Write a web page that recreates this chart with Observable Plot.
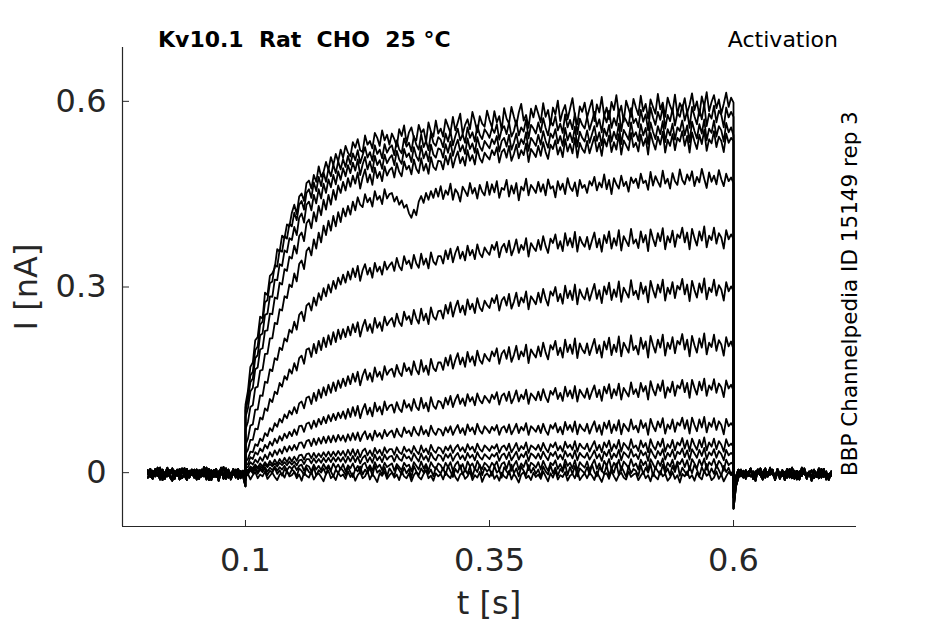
<!DOCTYPE html>
<html><head><meta charset="utf-8">
<script src="https://cdn.jsdelivr.net/npm/d3@7"></script>
<script src="https://cdn.jsdelivr.net/npm/@observablehq/plot@0.6"></script>
<style>body{margin:0;background:#fff} #chart{width:945px;height:624px}</style>
</head><body><div id="chart"></div>
<script>
// Axis settings
const X_DOMAIN = [-0.026, 0.726];
const Y_DOMAIN = [-0.087, 0.687];
const X_TICKS = [0.1, 0.35, 0.6];
const Y_TICKS = [0, 0.3, 0.6];
const TITLE = "Kv10.1  Rat  CHO  25 °C";
const PROTOCOL = "Activation";
const SOURCE = "BBP Channelpedia ID 15149 rep 3";
const X_LABEL = "t [s]";
const Y_LABEL = "I [nA]";

// segment times (s); samples every 2.5 ms; values in pA (1/1000 nA)
const T0 = 0, PULSE_START = 0.1, PULSE_END = 0.6, T_END = 0.7;

// baseline before the step (t = 0 … 0.1), four recorded variants
const pre1 = [-3,6,-9,2,-5,8,-12,0,-6,4,-1,-10,5,-7,1,7,-8,3,-4,5,-11,2,-6,9,-3,-9,4,-2,6,-13,1,-5,7,-8,0,-3,5,-10,3,-6,-22];
const pre2 = [4,-7,1,-3,8,-5,0,-10,3,-1,7,-6,2,-11,1,-4,6,-8,0,-2,5,-9,3,-6,8,-12,-1,4,-7,2,-3,9,-10,0,-5,6,-8,1,-4,3,-12];
const pre3 = [-8,0,3,-6,-1,-11,5,-4,2,-7,-13,0,-5,6,-9,-2,4,-6,1,-8,2,-10,5,-3,-7,1,-12,4,-2,-6,7,-9,-1,3,-11,0,-5,6,-8,-2,-6];
const pre4 = [1,-5,-10,6,-2,4,-7,-1,8,-4,-8,3,-1,-6,7,-5,-12,0,5,-2,-9,4,-6,2,-11,6,-3,-7,1,-4,8,-10,-2,5,-8,0,-6,3,-9,1,2];
// tail after the step (t = 0.6 … 0.7)
const post1 = [-58,-22,-8,3,-7,1,-5,7,-9,-1,5,-4,-11,2,-6,6,-3,-8,1,-5,4,-12,0,-6,8,-3,-9,2,-5,5,-10,1,-7,3,-2,-9,6,-4,-1,-7,-5];
const post2 = [-30,-12,-3,5,-7,0,-4,6,-10,2,-2,7,-5,-8,1,-3,5,-12,0,-4,3,-7,-1,6,-9,2,-5,-11,4,-2,-6,1,-13,3,-4,7,-8,0,-3,-6,2];
const post3 = [-15,-6,5,-2,-8,4,-3,-6,2,-13,5,-4,0,7,-6,-1,3,-9,6,-3,-5,1,-8,4,-2,-10,3,-6,8,-1,-4,2,-9,5,-7,0,-3,6,-11,-2,-4];
const post4 = [-40,-15,0,-6,3,-10,1,5,-4,-7,4,-1,-9,3,-5,8,-3,-7,2,-10,0,-4,6,-8,-2,3,-11,1,-5,7,-6,-1,4,-9,0,-3,5,-7,2,-12,-1];

// currents during the step (t = 0.1 … 0.6), one array per voltage step
const s1 = [110,132,171,178,214,219,252,249,291,287,318,322,331,361,357,383,379,401,398,420,
433,418,446,451,439,468,472,459,481,470,495,478,486,502,489,510,497,515,503,522,
509,528,517,511,534,525,539,521,518,545,530,536,524,549,541,528,553,537,546,530,
548,539,527,555,544,561,533,550,558,541,537,562,549,555,534,566,551,543,569,548,
556,543,571,560,549,575,553,566,580,547,562,571,555,583,568,550,576,564,559,585,
570,558,584,566,576,553,589,572,564,591,575,561,582,596,569,578,557,588,574,593,
580,566,597,575,586,562,590,579,601,568,584,594,571,588,605,577,563,592,583,598,
574,589,602,568,595,582,607,576,590,571,599,586,610,579,593,567,601,588,575,604,
590,578,609,584,596,572,603,591,580,612,587,598,575,606,593,583,611,579,597,588,
605,581,594,613,586,600,577,608,592,615,584,599,610,589,603,580,596,614,591,606,598];
const s2 = [105,124,157,163,198,204,239,244,275,279,306,309,335,333,360,357,382,378,402,398,
420,408,433,439,425,452,458,444,469,455,478,463,485,470,491,479,498,484,503,490,
507,494,512,498,516,505,521,500,513,526,509,518,504,529,515,522,508,531,517,525,
529,513,537,522,516,540,527,533,519,544,530,522,547,526,536,521,549,533,528,542,
538,526,548,535,552,529,544,556,537,547,533,558,541,550,535,561,546,539,555,549,
541,557,549,563,538,555,560,547,566,543,552,569,545,558,551,571,540,562,556,548,
566,550,573,557,545,568,561,576,553,564,549,579,558,570,555,581,547,572,562,556,
575,554,568,583,559,571,550,578,566,585,557,573,561,587,552,576,569,560,589,565,
572,558,586,567,579,553,590,574,562,583,570,592,556,578,568,588,561,581,575,594,
569,584,557,591,576,563,587,571,596,560,580,572,593,566,585,578,558,590,574,583,575];
const s3 = [100,117,146,152,185,190,222,225,255,257,285,284,312,311,337,334,359,356,379,376,
397,384,412,419,404,433,438,424,449,435,458,443,467,452,474,461,481,466,487,473,
492,479,497,484,501,488,506,481,498,510,490,503,486,512,497,505,491,514,500,508,
513,497,520,506,499,523,510,516,502,526,511,504,528,508,519,503,530,514,509,524,
522,509,531,517,535,512,527,538,519,529,515,540,523,532,517,542,527,520,536,530,
524,539,531,544,519,536,541,527,546,522,533,548,526,539,531,550,520,541,535,528,
546,530,552,536,525,548,541,555,532,544,528,557,537,549,534,559,527,551,541,535,
553,533,547,560,536,550,529,556,544,562,535,551,539,564,531,554,546,538,566,543,
550,536,563,545,557,531,566,551,539,560,547,568,534,555,545,564,538,558,552,569,
545,561,534,567,552,540,563,548,571,537,556,549,569,543,560,553,535,565,550,558,545];
const s4 = [90,104,131,137,167,170,199,201,229,230,257,256,283,281,307,304,329,326,349,346,
367,354,382,388,374,403,409,395,421,406,431,416,441,425,449,433,457,441,464,452,
470,456,476,462,480,467,485,459,477,490,469,482,465,493,476,486,471,495,480,489,
493,477,500,486,479,503,490,496,482,506,491,484,508,488,499,483,510,494,489,504,
503,490,512,498,516,493,508,519,500,510,496,521,504,513,498,523,508,501,517,511,
506,521,513,526,501,518,523,509,528,504,515,530,508,521,513,532,502,523,517,510,
528,512,534,518,507,530,523,537,514,526,510,539,519,531,516,541,509,533,523,517,
536,516,530,543,519,533,512,539,527,545,518,534,522,547,514,537,529,521,549,526,
533,519,546,528,540,514,549,534,522,543,530,551,517,538,528,547,521,541,535,552,
528,544,517,550,535,523,546,531,554,520,539,532,552,526,543,536,518,548,533,541,536];
const s5 = [70,82,106,109,137,139,165,166,192,192,217,217,242,240,264,262,285,282,304,300,
322,309,337,343,329,358,364,351,377,362,388,372,399,384,407,391,415,398,421,405,
427,414,431,417,438,424,445,433,429,450,437,444,430,455,441,447,434,458,443,450,
452,438,446,433,440,428,433,419,412,425,416,438,447,436,452,441,455,444,459,446,
463,442,456,449,467,441,458,452,438,462,455,447,468,451,460,443,465,454,448,470,
449,466,453,471,444,460,457,473,446,464,451,468,440,462,456,475,448,465,459,452,
470,454,466,448,474,459,463,445,471,457,467,450,476,461,455,469,447,473,460,465,
452,471,464,478,456,469,461,482,458,473,450,476,466,459,480,463,470,454,477,468,
475,460,483,468,472,457,486,464,479,470,462,488,467,475,459,484,471,465,490,473,
466,482,472,487,463,478,469,491,475,460,485,470,480,466,489,474,463,483,471,477,468];
const s6 = [45,55,76,78,102,102,125,124,147,145,167,164,185,182,202,198,217,212,231,226,
244,231,255,260,245,270,274,262,283,270,290,279,298,285,304,291,310,297,315,304,
320,307,325,312,330,316,334,310,327,337,320,331,315,339,325,333,320,341,328,335,
340,326,347,333,327,350,337,343,330,352,338,331,354,336,346,330,356,341,336,350,
350,338,359,345,362,340,355,365,346,357,343,367,351,360,345,369,354,348,364,357,
352,368,360,373,348,364,370,356,375,351,362,377,355,368,360,379,349,371,364,358,
376,360,382,366,355,378,371,385,362,374,358,387,367,379,364,389,357,381,371,365,
381,361,375,388,364,378,357,384,371,390,362,379,367,392,359,382,374,366,394,370,
377,363,390,372,384,358,393,378,366,387,374,395,361,382,372,391,365,385,379,396,
372,388,361,394,379,367,390,375,398,364,383,376,396,370,387,380,362,392,377,385,378];
const s7 = [30,37,53,53,71,70,89,86,104,100,119,114,131,127,145,139,156,150,167,160,
177,165,185,189,176,199,201,187,208,193,213,198,218,203,222,207,227,211,231,216,
232,219,236,222,240,227,243,220,236,247,229,240,226,250,234,243,229,252,238,245,
250,236,257,243,237,260,247,253,240,263,249,241,265,246,257,240,267,252,247,261,
262,249,271,257,275,252,267,278,259,270,255,280,264,273,258,282,267,261,278,271,
266,282,274,287,262,278,284,270,289,265,276,291,269,283,275,293,264,285,279,272,
291,275,297,281,270,293,286,300,277,289,273,302,282,294,279,304,272,296,286,280,
298,278,292,305,281,295,274,301,288,307,279,296,284,309,276,299,291,283,311,287,
294,280,307,289,301,275,310,295,283,304,291,312,278,299,289,308,282,302,296,313,
288,304,277,310,295,283,306,291,314,280,299,292,312,286,303,296,278,308,293,301,294];
const s8 = [18,22,34,33,46,43,55,51,64,59,72,67,80,74,87,81,94,88,100,94,
106,96,112,115,104,121,123,111,129,116,134,121,138,125,142,129,146,132,149,137,
152,140,156,143,160,147,163,141,157,167,150,161,147,170,155,163,150,172,158,165,
168,155,174,162,156,177,164,170,158,180,166,159,182,163,173,158,184,169,164,178,
178,166,186,173,190,168,182,193,175,186,171,195,179,188,173,197,182,176,192,185,
180,196,188,201,176,192,198,184,203,179,190,205,183,196,188,207,177,199,192,186,
204,188,210,194,183,206,199,213,190,202,186,215,195,207,192,217,185,209,199,193,
209,190,203,216,193,206,186,212,199,218,190,207,195,220,188,210,202,194,222,198,
205,191,218,200,212,186,221,206,194,215,202,223,189,210,200,219,193,213,207,224,
199,215,188,221,206,194,217,202,225,191,210,203,223,197,214,207,189,219,204,212,199];
const s9 = [12,14,25,22,33,29,39,34,45,39,50,44,55,48,59,52,63,56,66,59,
70,61,75,76,66,79,81,71,84,74,87,78,90,80,93,83,95,85,97,88,
99,87,103,90,106,92,108,88,102,111,94,105,91,113,99,107,94,115,101,108,
110,97,114,103,98,117,105,111,100,119,106,101,121,104,113,99,122,108,103,116,
114,104,121,110,124,106,118,126,111,120,108,127,115,122,109,128,117,112,124,119,
113,126,119,130,110,124,128,116,131,112,121,133,115,126,119,134,111,128,123,117,
131,117,135,122,114,132,126,137,119,129,116,139,123,133,120,140,115,134,127,121,
136,119,131,141,122,134,116,139,128,143,120,135,125,144,118,137,130,123,146,127,
135,122,145,131,140,118,148,134,125,143,132,149,121,138,130,147,124,141,136,150,
130,145,121,150,137,126,147,133,152,124,141,134,151,129,144,138,122,149,136,142,133];
const s10 = [8,9,17,13,21,16,25,19,29,22,33,26,36,29,38,31,42,34,43,36,
45,37,48,49,40,51,53,43,55,45,56,47,58,48,59,49,60,50,61,52,
60,50,62,52,64,53,65,51,61,67,54,63,52,68,58,64,55,69,59,65,
68,57,71,62,58,73,64,68,59,74,65,60,75,62,69,59,76,66,61,71,
69,60,73,65,75,61,70,77,64,72,61,78,67,73,62,79,68,63,75,70,
64,74,68,77,61,72,75,65,78,62,70,79,64,74,68,80,61,75,71,66,
76,64,79,68,61,77,71,80,65,74,62,82,69,77,66,83,62,78,71,67,
79,63,74,83,66,77,61,81,71,84,64,78,68,85,62,79,73,67,86,70,
76,65,85,72,80,61,87,75,67,83,73,88,63,78,71,86,66,81,76,89,
71,85,63,89,77,67,86,73,90,65,81,74,88,69,83,77,62,87,75,80,74];
const s11 = [5,4,10,7,13,8,15,10,17,11,19,13,21,14,22,16,24,17,25,18,
26,19,28,29,21,30,31,23,32,24,31,25,33,26,34,26,34,27,35,28,
35,26,37,28,38,27,37,25,35,39,28,36,27,40,31,37,28,41,32,38,
38,29,41,33,30,42,34,38,31,43,35,30,44,33,39,30,45,36,32,41,
39,31,42,36,44,32,40,45,35,41,33,46,37,42,33,47,38,34,44,40,
35,43,39,46,32,41,44,36,47,33,40,48,35,43,38,49,32,44,41,37,
45,35,48,39,33,46,41,49,36,43,34,50,40,45,37,51,34,47,41,38,
47,34,43,51,36,45,33,49,41,52,35,46,39,53,34,48,43,37,54,40,
44,35,52,41,48,33,54,43,37,50,42,55,34,46,40,53,36,49,44,56,
39,52,35,55,45,37,53,41,57,36,49,42,55,38,51,45,34,54,43,47,42];
const s12 = [3,2,8,5,10,6,11,7,13,9,14,10,15,10,16,12,17,12,18,13,
18,12,20,21,14,22,22,15,23,16,22,16,24,17,24,17,25,18,25,18,
25,16,26,18,27,17,26,15,24,28,17,25,16,29,20,26,17,29,21,26,
27,18,29,22,19,30,23,26,19,31,24,18,31,21,27,18,32,24,20,29,
27,19,30,24,31,19,27,32,22,28,20,32,24,29,20,33,25,21,30,26,
22,30,26,32,19,28,31,22,33,20,27,34,21,30,25,34,19,31,28,23,
31,22,34,26,20,32,27,34,22,29,21,35,26,31,23,36,20,32,27,24,
32,21,28,36,23,30,19,34,27,37,22,31,25,37,20,33,29,24,38,26,
30,22,36,28,33,19,38,30,23,35,28,38,21,32,26,37,22,34,30,39,
25,36,21,38,31,24,37,27,40,22,33,28,38,24,35,30,20,37,28,32,28];
const s13 = [2,0,6,2,7,1,8,3,9,2,8,4,10,3,9,5,11,4,10,6,
12,4,11,13,3,12,10,2,13,5,11,4,14,6,12,3,15,7,13,5,
14,2,12,7,15,4,11,1,13,16,5,12,3,17,8,13,4,16,9,12,
15,3,14,9,4,16,10,13,2,17,11,5,18,7,14,3,17,10,6,15,
12,4,16,9,17,3,13,18,6,14,2,18,10,15,5,19,11,6,16,12,
7,16,11,18,4,14,17,6,19,3,12,19,5,15,9,20,4,16,13,8,
17,5,19,10,3,16,12,20,6,14,4,21,11,16,7,20,3,17,12,8,
18,4,13,21,6,15,2,19,11,22,5,16,9,21,3,18,13,7,22,10,
15,5,21,12,18,3,22,14,6,19,11,23,4,16,10,21,5,18,14,22,
9,20,4,22,15,7,21,11,23,5,17,12,22,8,19,14,3,21,12,16,13];
const s14 = [0,-3,4,-1,6,-2,5,1,7,-4,3,0,8,-2,4,-5,6,1,-3,5,
2,-6,7,3,-4,8,1,-2,9,-5,4,0,7,-3,10,2,-6,5,-1,8,
3,-4,9,1,-7,6,2,10,-3,5,-1,8,-5,11,0,4,-2,9,-6,7,
1,-5,10,4,-3,8,-1,6,-8,11,2,-4,7,0,12,-2,5,-6,9,3,
-1,8,-4,11,2,-7,6,0,12,-3,5,-2,10,-6,7,1,13,-4,8,2,
6,-5,11,0,4,-8,9,2,-3,13,-1,7,-6,10,3,-4,12,0,8,-2,
5,-7,10,2,-3,12,-1,8,-5,6,1,14,-4,9,-2,11,-6,7,3,-1,
9,-3,13,1,-6,8,4,-2,12,-5,7,0,15,-4,10,2,-7,11,-1,6,
3,-5,12,-2,8,0,14,-6,9,2,-3,13,-1,7,-4,11,1,16,-5,8,
2,-4,10,-1,13,5,-6,9,0,14,-3,7,-2,12,4,-5,11,1,8,-3,5];
const s15 = [-8,-2,-11,-4,1,-9,-3,-6,2,-10,-5,0,-7,-12,-3,-1,-8,3,-6,-4,
1,-9,-3,-13,0,-5,-8,2,-11,-4,-1,-7,-14,-2,3,-9,-5,-12,0,-6,
-3,-10,2,-7,-1,-13,-4,1,-9,-6,3,-11,-2,-8,-15,-1,-5,2,-10,-4,
0,-8,-3,-12,2,-6,-9,-1,-14,-4,1,-7,-11,-2,4,-9,-5,-13,-1,-6,
-2,-11,1,-5,-9,3,-7,-13,-3,0,-10,-6,2,-12,-4,-8,1,-15,-5,-1,
-7,2,-10,-4,-13,0,-6,-9,3,-11,-2,-8,-16,-3,1,-9,-5,-12,0,-7,
-3,-10,2,-6,-14,-1,-8,3,-11,-4,-7,1,-13,-5,-2,-9,4,-12,-6,-1,
-9,0,-5,-12,2,-7,-15,-3,-1,-10,3,-6,-13,-4,0,-8,-11,2,-7,-3,
-1,-12,-5,1,-9,-4,-14,0,-7,-11,3,-6,-2,-13,-8,1,-10,-4,-16,-2,
-6,2,-9,-4,-13,0,-7,-11,3,-5,-1,-12,-8,2,-10,-3,-14,-6,1,-4,-2];

const STEPS = [s1,s2,s3,s4,s5,s6,s7,s8,s9,s10,s11,s12,s13,s14,s15];
const PRES = [pre1,pre2,pre3,pre4];
const POSTS = [post1,post2,post3,post4];

// assemble one table of samples (each segment spread evenly over its time span)
const rows = [];
function pushSegment(k, arr, ta, tb) {
  const n = arr.length;
  arr.forEach((v, i) => rows.push({k, t: ta + (tb - ta) * i / (n - 1), v: v / 1000}));
}
STEPS.forEach((step, k) => {
  pushSegment(k, PRES[k % 4], T0, PULSE_START);
  pushSegment(k, step, PULSE_START, PULSE_END);
  pushSegment(k, POSTS[k % 4], PULSE_END, T_END);
});

const AXIS_COLOR = "#262626";
const plot = Plot.plot({
  width: 945, height: 624,
  marginLeft: 122, marginRight: 89, marginTop: 47, marginBottom: 98,
  style: {fontFamily: "DejaVu Sans", background: "#fff", overflow: "visible"},
  x: {domain: X_DOMAIN},
  y: {domain: Y_DOMAIN},
  marks: [
    Plot.line(rows, {x: "t", y: "v", z: "k", stroke: "#000", strokeWidth: 1.8, strokeLinejoin: "round"}),
    Plot.ruleX([X_DOMAIN[0]], {stroke: AXIS_COLOR, strokeWidth: 1.2}),
    Plot.ruleY([Y_DOMAIN[0]], {stroke: AXIS_COLOR, strokeWidth: 1.2}),
    Plot.axisX(X_TICKS, {tickSize: -6, tickPadding: 28, fontSize: 32, fill: AXIS_COLOR, stroke: AXIS_COLOR, tickFormat: d => String(d), label: null}),
    Plot.axisY(Y_TICKS, {tickSize: -7, tickPadding: 23, fontSize: 32, fill: AXIS_COLOR, stroke: AXIS_COLOR, tickFormat: d => String(d), label: null})
  ]
});
document.getElementById("chart").appendChild(plot);

const svg = d3.select(plot);
svg.append("text").attr("x", 158).attr("y", 47).attr("font-size", 22).attr("font-weight", "bold")
  .attr("text-anchor", "start").attr("fill", "#000").style("white-space", "pre").text(TITLE);
svg.append("text").attr("x", 838).attr("y", 47).attr("font-size", 22).attr("text-anchor", "end")
  .attr("fill", "#000").text(PROTOCOL);
svg.append("text").attr("transform", "translate(857,476) rotate(-90)").attr("font-size", 21.5)
  .attr("text-anchor", "start").attr("fill", "#000").text(SOURCE);
svg.append("text").attr("x", 489).attr("y", 614).attr("font-size", 32).attr("text-anchor", "middle")
  .attr("fill", AXIS_COLOR).text(X_LABEL);
svg.append("text").attr("transform", "translate(37,287) rotate(-90)").attr("font-size", 32).attr("text-anchor", "middle")
  .attr("fill", AXIS_COLOR).text(Y_LABEL);
</script>
</body></html>
